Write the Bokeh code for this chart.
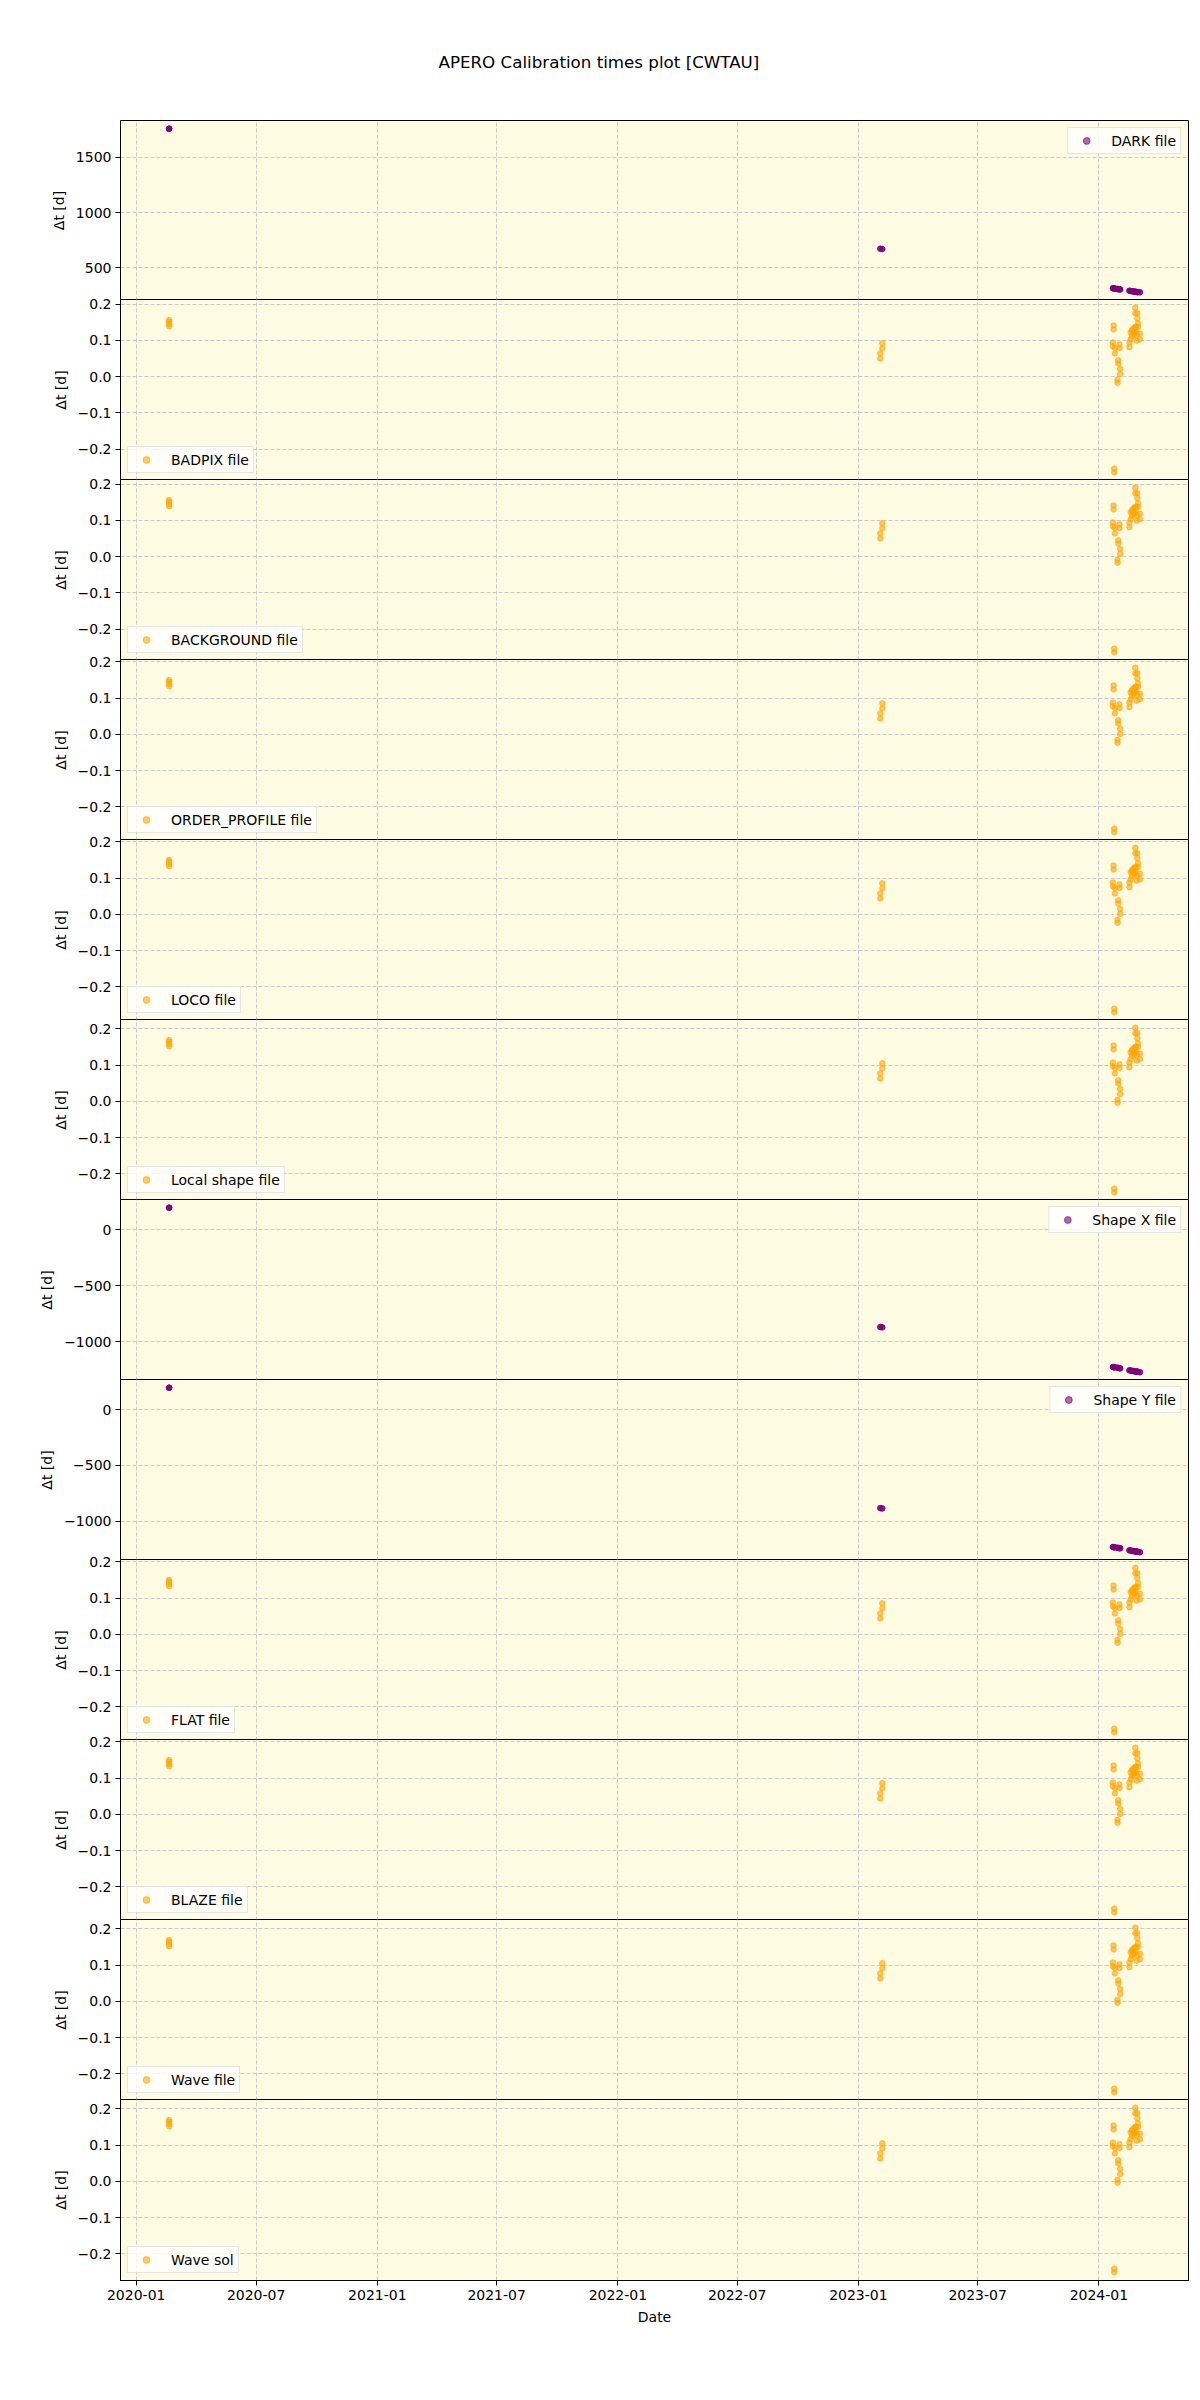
import numpy as np
import pandas as pd
from bokeh.plotting import figure
from bokeh.models import (ColumnDataSource, Range1d, FixedTicker, MonthsTicker,
                          DatetimeTickFormatter, CustomJSTickFormatter, Legend, LegendItem)
from bokeh.layouts import column
from bokeh.embed import file_html
from bokeh.resources import INLINE

# ---------------- data ----------------
obs_time = [
    "2020-02-19T20:00", "2020-02-19T22:00", "2020-02-20T00:00", "2020-02-20T02:00",
    "2023-02-03T06:00", "2023-02-03T08:00",
    "2023-02-06T06:00", "2023-02-06T08:00",
    "2024-01-22T06:00", "2024-01-22T08:00",
    "2024-01-23T06:00", "2024-01-23T08:00",
    "2024-01-24T06:00", "2024-01-24T08:00",
    "2024-01-25T06:00", "2024-01-25T08:00",
    "2024-01-29T06:00", "2024-01-29T08:00",
    "2024-01-30T06:00", "2024-01-30T08:00",
    "2024-02-01T06:00", "2024-02-01T08:00",
    "2024-02-02T06:00", "2024-02-02T08:00",
    "2024-02-16T06:00", "2024-02-16T08:00",
    "2024-02-18T06:00", "2024-02-18T08:00",
    "2024-02-20T06:00", "2024-02-20T08:00",
    "2024-02-22T06:00", "2024-02-22T08:00",
    "2024-02-24T06:00", "2024-02-24T08:00",
    "2024-02-25T06:00", "2024-02-25T08:00",
    "2024-02-26T06:00", "2024-02-26T08:00",
    "2024-02-27T06:00", "2024-02-27T08:00",
    "2024-02-28T06:00", "2024-02-28T08:00",
    "2024-02-29T06:00", "2024-02-29T08:00",
    "2024-03-03T06:00", "2024-03-03T08:00",
]

dark_dt = [1757.3, 1757.2, 1757.1, 1757.0, 673, 673, 670, 670,
           316, 316, 315, 315, 314, 314, 313, 313, 309, 309, 308, 308,
           306, 306, 305, 305, 293, 293, 291, 291, 289, 289, 287, 287,
           285, 285, 284, 284, 283, 283, 282, 282, 281, 281, 280, 280, 279, 279]

# BADPIX / BACKGROUND
calib_a_dt = [0.156, 0.151, 0.145, 0.139, 0.064, 0.050, 0.092, 0.078,
              0.094, 0.084, 0.141, 0.130, -0.254, -0.264, 0.079, 0.064,
              -0.009, -0.017, 0.045, 0.036, 0.089, 0.079, 0.021, 0.007,
              0.094, 0.081, 0.122, 0.103, 0.128, 0.112, 0.132, 0.118,
              0.136, 0.121, 0.190, 0.175, 0.137, 0.122, 0.113, 0.099,
              0.175, 0.161, 0.147, 0.137, 0.118, 0.103]

# ORDER_PROFILE / LOCO / FLAT / BLAZE
calib_b_dt = [0.150, 0.145, 0.139, 0.133, 0.058, 0.044, 0.086, 0.072,
              0.088, 0.078, 0.135, 0.124, -0.260, -0.270, 0.073, 0.058,
              -0.015, -0.023, 0.039, 0.030, 0.083, 0.073, 0.015, 0.001,
              0.088, 0.075, 0.116, 0.097, 0.122, 0.106, 0.126, 0.112,
              0.130, 0.115, 0.184, 0.169, 0.131, 0.116, 0.107, 0.093,
              0.169, 0.155, 0.141, 0.131, 0.112, 0.097]

# Local shape / Wave file / Wave sol
calib_c_dt = [0.169, 0.164, 0.158, 0.152, 0.077, 0.063, 0.105, 0.091,
              0.107, 0.097, 0.154, 0.143, -0.241, -0.251, 0.092, 0.077,
              0.004, -0.004, 0.058, 0.049, 0.102, 0.092, 0.034, 0.020,
              0.107, 0.094, 0.135, 0.116, 0.141, 0.125, 0.145, 0.131,
              0.149, 0.134, 0.203, 0.188, 0.150, 0.135, 0.126, 0.112,
              0.188, 0.174, 0.160, 0.150, 0.131, 0.116]

shape_x_dt = [198, 198, 198, 198, -870, -870, -873, -873,
              -1228, -1228, -1229, -1229, -1230, -1230, -1231, -1231,
              -1235, -1235, -1236, -1236, -1238, -1238, -1240, -1240,
              -1258, -1258, -1260, -1260, -1262, -1262, -1264, -1264,
              -1266, -1266, -1267, -1267, -1268, -1268, -1269, -1269,
              -1270, -1270, -1271, -1271, -1275, -1275]

shape_y_dt = [195, 195, 195, 195, -882, -882, -885, -885,
              -1230, -1230, -1231, -1231, -1232, -1232, -1233, -1233,
              -1237, -1237, -1238, -1238, -1240, -1240, -1242, -1242,
              -1260, -1260, -1262, -1262, -1264, -1264, -1266, -1266,
              -1268, -1268, -1269, -1269, -1270, -1270, -1271, -1271,
              -1272, -1272, -1273, -1273, -1277, -1277]

panel_labels = ["DARK file", "BADPIX file", "BACKGROUND file", "ORDER_PROFILE file",
                "LOCO file", "Local shape file", "Shape X file", "Shape Y file",
                "FLAT file", "BLAZE file", "Wave file", "Wave sol"]
panel_values = [dark_dt, calib_a_dt, calib_a_dt, calib_b_dt, calib_b_dt, calib_c_dt,
                shape_x_dt, shape_y_dt, calib_b_dt, calib_b_dt, calib_c_dt, calib_c_dt]
panel_kind = ["big", "small", "small", "small", "small", "small",
              "big", "big", "small", "small", "small", "small"]
panel_ticks = [[500, 1000, 1500], None, None, None, None, None,
               [-1000, -500, 0], [-1000, -500, 0], None, None, None, None]
small_ticks = [-0.2, -0.1, 0.0, 0.1, 0.2]

title_text = "APERO Calibration times plot [CWTAU]"

# ---------------- styling ----------------
FONT = "DejaVu Sans"
BG = "#fdfbe1"
ORANGE = "#ffa500"
PURPLE = "#800080"
LEFT, RIGHT = 120, 12
FW, FH = 1068, 180
OVER = 10  # transparent strip above each lower panel so top tick labels are not clipped

t_ms = (pd.to_datetime(obs_time).astype("int64") // 10**6).astype(float).to_numpy()
tmin, tmax = t_ms.min(), t_ms.max()
tspan = tmax - tmin
x_range = Range1d(start=tmin - 0.05 * tspan, end=tmax + 0.05 * tspan)

figs = []
n = len(panel_labels)
for i, (lab, vals, kind, ticks) in enumerate(zip(panel_labels, panel_values, panel_kind, panel_ticks)):
    v = np.asarray(vals, dtype=float)
    lo, hi = v.min(), v.max()
    sp = hi - lo
    first, last = i == 0, i == n - 1
    p = figure(x_axis_type="datetime", x_range=x_range,
               y_range=Range1d(lo - 0.05 * sp, hi + 0.05 * sp),
               frame_width=FW, frame_height=FH if first else FH + 1,
               min_border_left=LEFT, min_border_right=RIGHT,
               min_border_top=120 if first else OVER,
               min_border_bottom=120 if last else 0,
               output_backend="svg", toolbar_location=None)
    if not first:
        # overlap the previous panel by one pixel so the shared edge is a single line
        p.margin = (-(OVER + 1), 0, 0, 0)
        p.border_fill_alpha = 0.0
    p.background_fill_color = BG
    p.border_fill_color = "white"
    p.outline_line_color = "black"
    p.outline_line_width = 1
    p.outline_line_alpha = 1.0

    color = PURPLE if kind == "big" else ORANGE
    src = ColumnDataSource(dict(t=t_ms, v=v))
    r = p.scatter(x="t", y="v", source=src, size=5.5, fill_color=color,
                  line_color=color, fill_alpha=0.6, line_alpha=0.6)

    # grids
    p.xgrid.ticker = MonthsTicker(months=[0, 6])
    for g in (p.xgrid, p.ygrid):
        g.grid_line_color = "#c4c4cc"
        g.grid_line_dash = "4 2"
        g.grid_line_width = 1
        g.grid_line_alpha = 0.9

    # y axis
    yt = FixedTicker(ticks=ticks if ticks is not None else small_ticks)
    p.yaxis.ticker = yt
    p.ygrid.ticker = yt
    dec = 0 if kind == "big" else 1
    p.yaxis.formatter = CustomJSTickFormatter(
        code="return tick.toFixed(%d).replace('-', '\\u2212');" % dec)
    p.yaxis.axis_label = "\u0394t [d]"
    # x axis
    if last:
        p.xaxis.ticker = MonthsTicker(months=[0, 6])
        p.xaxis.formatter = DatetimeTickFormatter(
            years="%Y-%m", months="%Y-%m", days="%Y-%m", hours="%Y-%m")
        p.xaxis.axis_label = "Date"
    else:
        p.xaxis.visible = False

    for ax in (p.xaxis, p.yaxis):
        ax.axis_line_color = "black"
        ax.major_tick_line_color = "black"
        ax.major_tick_out = 5
        ax.major_tick_in = 0
        ax.minor_tick_line_color = None
        ax.major_label_text_font = FONT
        ax.major_label_text_font_size = "14px"
        ax.major_label_text_color = "black"
        ax.axis_label_text_font = FONT
        ax.axis_label_text_font_size = "14px"
        ax.axis_label_text_font_style = "normal"
        ax.axis_label_text_color = "black"
        ax.major_label_standoff = 4
        ax.axis_label_standoff = 6

    loc = "top_right" if kind == "big" else "bottom_left"
    leg = Legend(items=[LegendItem(label=lab, renderers=[r])], location=loc,
                 margin=7, padding=4, spacing=0,
                 glyph_width=28, glyph_height=17, label_height=17,
                 label_standoff=11,
                 label_text_font=FONT, label_text_font_size="14px",
                 label_text_color="black",
                 background_fill_color="white", background_fill_alpha=0.8,
                 border_line_color="#cccccc", border_line_width=1)
    p.add_layout(leg)

    if first:
        p.title.text = title_text
        p.title.align = "left"
        p.title.offset = 318
        p.title.standoff = 98
        p.title.text_font = FONT
        p.title.text_font_size = "16.7px"
        p.title.text_font_style = "normal"
        p.title.text_color = "black"

    figs.append(p)

layout = column(*figs, spacing=0)
with open("out.html", "w", encoding="utf-8") as f:
    f.write(file_html(layout, INLINE))
